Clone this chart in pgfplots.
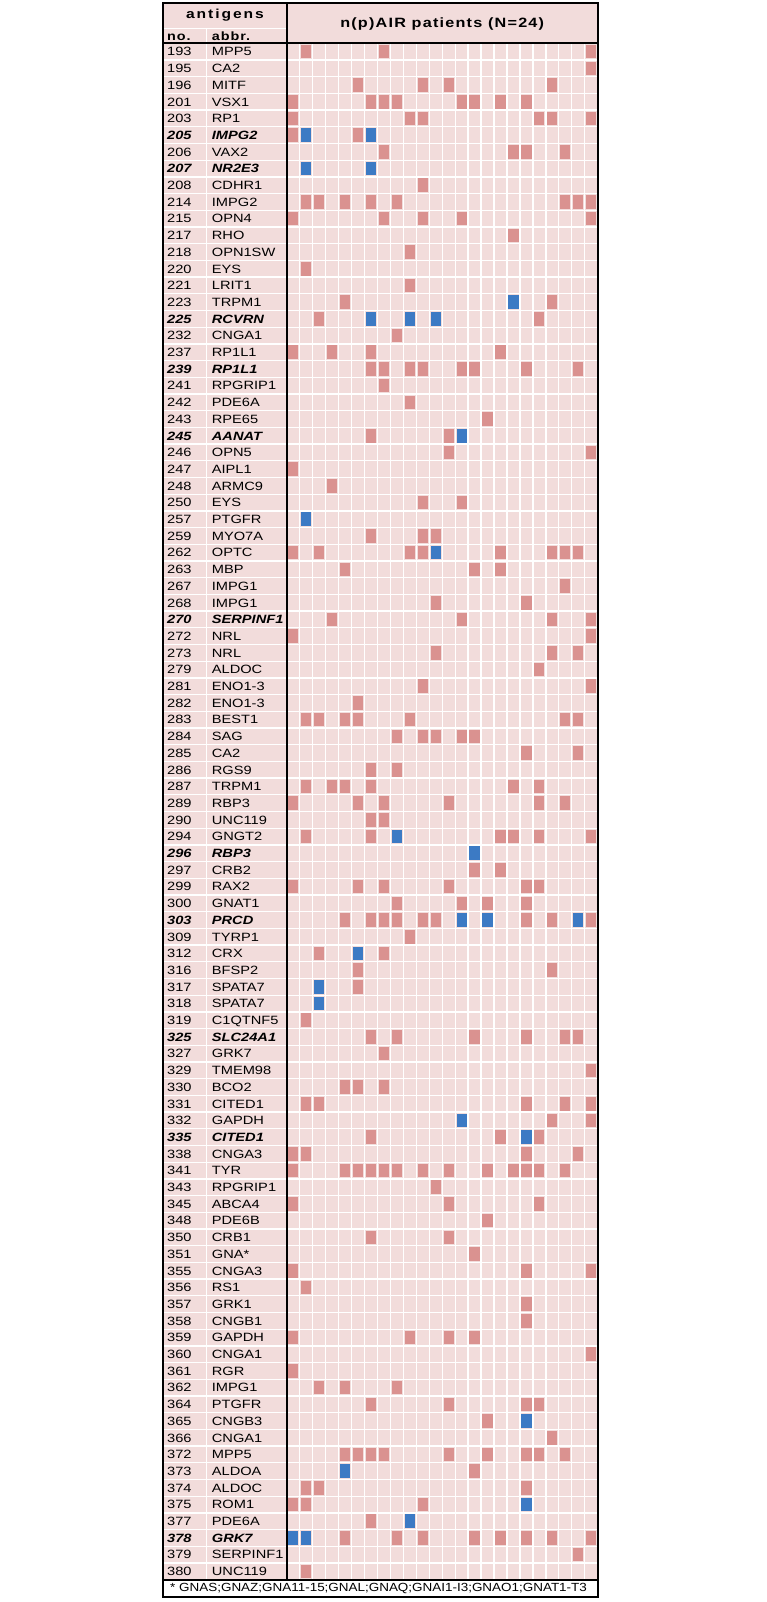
\documentclass[border=0pt]{standalone}
\usepackage{fontspec}
\setmainfont{Liberation Sans}
\newfontfamily\labfont[FakeStretch=1.22]{Liberation Sans}
\newfontfamily\hdrfont[FakeStretch=1.2,LetterSpace=15]{Liberation Sans}
\newfontfamily\titfont[FakeStretch=1.2,LetterSpace=9]{Liberation Sans}
\newfontfamily\subfont[FakeStretch=1.2,LetterSpace=8]{Liberation Sans}
\newfontfamily\notefont[FakeStretch=1.14]{Liberation Sans}
\usepackage{pgfplots}
\pgfplotsset{compat=1.18}
\definecolor{bgpink}{RGB}{242,220,219}
\definecolor{cellred}{RGB}{218,146,144}
\definecolor{cellblue}{RGB}{60,122,196}
\pgfdeclareplotmark{cell}{\pgfpathrectangle{\pgfqpoint{-5.1pt}{-6.8pt}}{\pgfqpoint{10.2pt}{13.6pt}}\pgfusepathqfill}
\newcommand{\rl}[2]{\makebox[44.7pt][l]{#1}#2}
\newcommand{\rb}[2]{{\bfseries\itshape\makebox[44.7pt][l]{#1}#2}}
\begin{document}
\begin{tikzpicture}
\useasboundingbox (0,0) rectangle (766pt,1602pt);
\begin{axis}[
  at={(163.3pt,5pt)}, anchor=south west,
  scale only axis, width=434.4pt, height=1593.7pt,
  xmin=-10.02, xmax=23.5, ymin=-2.895, ymax=92.54, y dir=reverse,
  axis line style={draw=none},
  axis background/.style={fill=bgpink},
  xtick=\empty,
  ytick={0,...,91},
  major tick length=0pt,
  yticklabel style={anchor=base west, inner sep=0pt, xshift=3.7pt, yshift=-4.3pt, font=\labfont\fontsize{12}{14}\selectfont},
  yticklabels={\rl{193}{MPP5},\rl{195}{CA2},\rl{196}{MITF},\rl{201}{VSX1},\rl{203}{RP1},\rb{205}{IMPG2},\rl{206}{VAX2},\rb{207}{NR2E3},\rl{208}{CDHR1},\rl{214}{IMPG2},
  \rl{215}{OPN4},\rl{217}{RHO},\rl{218}{OPN1SW},\rl{220}{EYS},\rl{221}{LRIT1},\rl{223}{TRPM1},\rb{225}{RCVRN},\rl{232}{CNGA1},\rl{237}{RP1L1},\rb{239}{RP1L1},
  \rl{241}{RPGRIP1},\rl{242}{PDE6A},\rl{243}{RPE65},\rb{245}{AANAT},\rl{246}{OPN5},\rl{247}{AIPL1},\rl{248}{ARMC9},\rl{250}{EYS},\rl{257}{PTGFR},\rl{259}{MYO7A},
  \rl{262}{OPTC},\rl{263}{MBP},\rl{267}{IMPG1},\rl{268}{IMPG1},\rb{270}{SERPINF1},\rl{272}{NRL},\rl{273}{NRL},\rl{279}{ALDOC},\rl{281}{ENO1-3},\rl{282}{ENO1-3},
  \rl{283}{BEST1},\rl{284}{SAG},\rl{285}{CA2},\rl{286}{RGS9},\rl{287}{TRPM1},\rl{289}{RBP3},\rl{290}{UNC119},\rl{294}{GNGT2},\rb{296}{RBP3},\rl{297}{CRB2},
  \rl{299}{RAX2},\rl{300}{GNAT1},\rb{303}{PRCD},\rl{309}{TYRP1},\rl{312}{CRX},\rl{316}{BFSP2},\rl{317}{SPATA7},\rl{318}{SPATA7},\rl{319}{C1QTNF5},\rb{325}{SLC24A1},
  \rl{327}{GRK7},\rl{329}{TMEM98},\rl{330}{BCO2},\rl{331}{CITED1},\rl{332}{GAPDH},\rb{335}{CITED1},\rl{338}{CNGA3},\rl{341}{TYR},\rl{343}{RPGRIP1},\rl{345}{ABCA4},
  \rl{348}{PDE6B},\rl{350}{CRB1},\rl{351}{GNA*},\rl{355}{CNGA3},\rl{356}{RS1},\rl{357}{GRK1},\rl{358}{CNGB1},\rl{359}{GAPDH},\rl{360}{CNGA1},\rl{361}{RGR},
  \rl{362}{IMPG1},\rl{364}{PTGFR},\rl{365}{CNGB3},\rl{366}{CNGA1},\rl{372}{MPP5},\rl{373}{ALDOA},\rl{374}{ALDOC},\rl{375}{ROM1},\rl{377}{PDE6A},\rb{378}{GRK7},
  \rl{379}{SERPINF1},\rl{380}{UNC119}},
  clip=false,
]
% white separators
\pgfplotsinvokeforeach{0.5,1.5,...,90.5}{\draw[white,line width=1.3pt] (axis cs:-10.02,#1) -- (axis cs:23.5,#1);}
\pgfplotsinvokeforeach{0.5,1.5,...,22.5}{\draw[white,line width=1.3pt] (axis cs:#1,-0.5) -- (axis cs:#1,91.5);}
\draw[white,line width=1.3pt] (axis cs:-6.67,-1.398) -- (axis cs:-6.67,91.5);
\draw[white,line width=1.3pt] (axis cs:-10.02,-1.398) -- (axis cs:-0.5,-1.398);
% positive cells
\addplot[only marks, mark=cell, color=cellred] coordinates {
(1,0)(7,0)(23,0)
(23,1)
(5,2)(10,2)(12,2)(20,2)
(0,3)(6,3)(7,3)(8,3)(13,3)(14,3)(16,3)(18,3)
(0,4)(9,4)(10,4)(19,4)(20,4)(23,4)
(0,5)(5,5)
(7,6)(17,6)(18,6)(21,6)
(10,8)
(1,9)(2,9)(4,9)(6,9)(8,9)(21,9)(22,9)(23,9)
(0,10)(7,10)(10,10)(13,10)(23,10)
(17,11)
(9,12)
(1,13)
(9,14)
(4,15)(20,15)
(2,16)(19,16)
(8,17)
(0,18)(3,18)(6,18)(16,18)
(6,19)(7,19)(9,19)(10,19)(13,19)(14,19)(18,19)(22,19)
(7,20)
(9,21)
(15,22)
(6,23)(12,23)
(12,24)(23,24)
(0,25)
(3,26)
(10,27)(13,27)
(6,29)(10,29)(11,29)
(0,30)(2,30)(9,30)(10,30)(16,30)(20,30)(21,30)(22,30)
(4,31)(14,31)(16,31)
(21,32)
(11,33)(18,33)
(3,34)(13,34)(20,34)(23,34)
(0,35)(23,35)
(11,36)(20,36)(22,36)
(19,37)
(10,38)(23,38)
(5,39)
(1,40)(2,40)(4,40)(5,40)(9,40)(21,40)(22,40)
(8,41)(10,41)(11,41)(13,41)(14,41)
(18,42)(22,42)
(6,43)(8,43)
(1,44)(3,44)(4,44)(6,44)(17,44)(19,44)
(0,45)(5,45)(7,45)(12,45)(19,45)(21,45)
(6,46)(7,46)
(1,47)(6,47)(16,47)(17,47)(19,47)(23,47)
(14,49)(16,49)
(0,50)(5,50)(7,50)(12,50)(18,50)(19,50)
(8,51)(13,51)(15,51)(18,51)
(4,52)(6,52)(7,52)(8,52)(10,52)(11,52)(18,52)(20,52)(23,52)
(9,53)
(2,54)(7,54)
(5,55)(20,55)
(5,56)
(1,58)
(6,59)(8,59)(14,59)(18,59)(21,59)(22,59)
(7,60)
(23,61)
(4,62)(5,62)(7,62)
(1,63)(2,63)(18,63)(21,63)(23,63)
(20,64)(23,64)
(6,65)(16,65)(19,65)
(0,66)(1,66)(18,66)(22,66)
(0,67)(4,67)(5,67)(6,67)(7,67)(8,67)(10,67)(12,67)(15,67)(17,67)(18,67)(19,67)(21,67)
(11,68)
(0,69)(12,69)(19,69)
(15,70)
(6,71)(12,71)
(14,72)
(0,73)(18,73)(23,73)
(1,74)
(18,75)
(18,76)
(0,77)(9,77)(12,77)(14,77)
(23,78)
(0,79)
(2,80)(4,80)(8,80)
(6,81)(12,81)(18,81)(19,81)
(15,82)
(20,83)
(4,84)(5,84)(6,84)(7,84)(12,84)(15,84)(18,84)(19,84)(21,84)
(14,85)
(1,86)(2,86)(18,86)
(0,87)(1,87)(10,87)
(6,88)
(4,89)(8,89)(10,89)(14,89)(16,89)(18,89)(20,89)(23,89)
(22,90)
(1,91)
};
\addplot[only marks, mark=cell, color=cellblue] coordinates {
(1,5)(6,5)(1,7)(6,7)(17,15)(6,16)(9,16)(11,16)(13,23)(1,28)(11,30)(8,47)(14,48)
(13,52)(15,52)(22,52)(5,54)(2,56)(2,57)(13,64)(18,65)(18,82)(4,85)(18,87)(9,88)(0,89)(1,89)
};
% footnote box
\fill[white] (axis cs:-10.02,91.5) rectangle (axis cs:23.5,92.54);
\node[anchor=west, inner sep=0pt, font=\notefont\fontsize{11.8}{13}\selectfont] at (axis cs:-9.5,92.03) {* GNAS;GNAZ;GNA11-15;GNAL;GNAQ;GNAI1-I3;GNAO1;GNAT1-T3};
% header texts
\node[font=\hdrfont\bfseries\fontsize{13}{15}\selectfont] at (axis cs:-5.26,-2.17) {antigens};
\node[anchor=base west, inner sep=0pt, font=\subfont\bfseries\fontsize{12}{14}\selectfont] at (axis cs:-9.74,-0.68) {no.};
\node[anchor=base west, inner sep=0pt, font=\subfont\bfseries\fontsize{12}{14}\selectfont] at (axis cs:-6.29,-0.68) {abbr.};
\node[font=\titfont\bfseries\fontsize{13.5}{15}\selectfont] at (axis cs:11.5,-1.65) {n(p)AIR patients (N=24)};
% black rules
\draw[black, line width=1.8pt] (axis cs:-0.5,-2.895) -- (axis cs:-0.5,91.5);
\draw[black, line width=1.8pt] (axis cs:-10.02,-0.5) -- (axis cs:23.5,-0.5);
\draw[black, line width=1.8pt] (axis cs:-10.02,91.5) -- (axis cs:23.5,91.5);
\draw[black, line width=2pt] (axis cs:-10.02,-2.895) rectangle (axis cs:23.5,92.54);
\end{axis}
\end{tikzpicture}
\end{document}
